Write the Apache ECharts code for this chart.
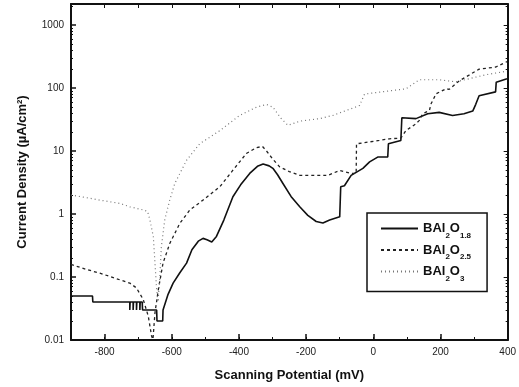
<!DOCTYPE html>
<html>
<head>
<meta charset="utf-8">
<script src="https://cdn.jsdelivr.net/npm/echarts@6/dist/echarts.min.js"></script>
<style>
  html, body { margin: 0; padding: 0; background: #fff; }
  #chart { width: 519px; height: 387px; }
</style>
</head>
<body>
<div id="chart"></div>
<script>
// series names
const names = ['BAl2O1.8', 'BAl2O2.5', 'BAl2O3']

// BAl2O1.8 (solid) - potential (mV) / current density (uA/cm2)
const s1x = [-900, -836, -835, -725, -725, -724, -715, -715, -714, -705, -705, -704, -695, -695, -694, -688, -687, -645, -644, -627, -626, -611, -596, -576, -556, -540, -521, -507, -495, -481, -467, -445, -418, -395, -368, -345, -328, -310, -299, -285, -269, -245, -219, -195, -170, -150, -130, -100, -97, -86, -66, -31, -11, 13, 43, 45, 82, 85, 127, 162, 196, 236, 270, 296, 305, 315, 364, 366, 398]
const s1y = [0.05, 0.05, 0.04, 0.04, 0.03, 0.04, 0.04, 0.03, 0.04, 0.04, 0.03, 0.04, 0.04, 0.03, 0.04, 0.04, 0.03, 0.03, 0.02, 0.02, 0.03, 0.053, 0.08, 0.117, 0.166, 0.27, 0.37, 0.41, 0.39, 0.36, 0.44, 0.8, 1.88, 2.9, 4.4, 5.7, 6.2, 5.8, 5.3, 4.2, 3.05, 1.9, 1.3, 0.95, 0.76, 0.72, 0.8, 0.9, 2.7, 2.8, 4.1, 5.3, 6.7, 8, 8, 13, 14.7, 33.7, 32.6, 39, 41, 36.6, 39, 43, 55, 75, 86.6, 123.6, 140]

// BAl2O2.5 (dashed)
const s2x = [-900, -850, -814, -754, -725, -705, -685, -670, -660, -656, -650, -640, -626, -606, -576, -546, -507, -457, -418, -378, -348, -330, -318, -300, -279, -250, -219, -180, -135, -101, -66, -51, -50, 18, 48, 82, 97, 127, 137, 147, 167, 172, 187, 217, 226, 256, 285, 315, 365, 398]
const s2y = [0.158, 0.13, 0.115, 0.09, 0.08, 0.067, 0.044, 0.024, 0.0115, 0.0102, 0.027, 0.063, 0.166, 0.34, 0.71, 1.16, 1.66, 2.7, 4.95, 9.1, 11.3, 11.8, 10, 7.5, 5.6, 4.7, 4.1, 4.1, 4.1, 4.9, 4.4, 4.4, 13, 14.7, 15.6, 16, 21, 27, 30.6, 39, 44, 56, 81, 97, 95, 130, 160, 199, 215, 262]

// BAl2O3 (dotted)
const s3x = [-900, -850, -814, -754, -725, -685, -672, -665, -655, -650, -645, -641, -636, -631, -621, -606, -591, -556, -517, -457, -398, -348, -318, -299, -275, -254, -219, -160, -120, -41, -26, -21, 97, 137, 196, 246, 335, 398]
const s3y = [2.0, 1.8, 1.66, 1.47, 1.3, 1.16, 1.1, 0.8, 0.44, 0.166, 0.063, 0.04, 0.09, 0.3, 0.8, 1.66, 3.05, 7.1, 13, 21, 36.6, 49.6, 54.7, 49.6, 33, 25.5, 29.7, 32.6, 36.7, 52.6, 80, 81, 97, 135, 135, 125, 162, 185]

// axis ticks
const xLabels = [-800, -600, -400, -200, 0, 200, 400]
const yLabels = [0.01, 0.1, 1, 10, 100, 1000]

const zip = (xs, ys) => xs.map((x, i) => [x, ys[i]])

const chart = echarts.init(document.getElementById('chart'))

const font = 'Liberation Sans, Arial, sans-serif'
const legendFmt = {
	'BAl2O1.8': '{n|BAl}{s|2}{n|O}{s|1.8}',
	'BAl2O2.5': '{n|BAl}{s|2}{n|O}{s|2.5}',
	'BAl2O3': '{n|BAl}{s|2}{n|O}{s|3}',
}

const option = {
	animation: false,
	backgroundColor: '#fff',
	grid: { left: 71, right: 9, top: 4, bottom: 45 },
	legend: {
		orient: 'vertical',
		left: 367,
		top: 213,
		itemWidth: 37,
		itemHeight: 2,
		itemGap: 4,
		padding: [9, 16, 9, 13],
		borderColor: '#111',
		borderWidth: 1.5,
		itemStyle: { opacity: 0 },
		formatter: (n) => legendFmt[n],
		textStyle: {
			rich: {
				n: { fontSize: 13, fontWeight: 'bold', fontFamily: font, color: '#111', lineHeight: 16 },
				s: { fontSize: 8, fontWeight: 'bold', fontFamily: font, color: '#111', lineHeight: 8, verticalAlign: 'bottom', padding: [0, 0, -3, 0] },
			},
		},
		data: names,
	},
	xAxis: [
		{
			type: 'value',
			min: -900,
			max: 400,
			position: 'bottom',
			name: 'Scanning Potential (mV)',
			nameLocation: 'middle',
			nameGap: 29,
			nameTextStyle: { fontSize: 13, fontWeight: 'bold', fontFamily: font, color: '#111' },
			axisLine: { onZero: false, lineStyle: { color: '#111', width: 2 } },
			axisTick: { inside: true, length: 6, customValues: xLabels, lineStyle: { color: '#111', width: 1.5 } },
			axisLabel: { customValues: xLabels, fontSize: 10, fontFamily: font, color: '#222', margin: 7 },
			splitLine: { show: false },
		},
		{
			type: 'value',
			min: -900,
			max: 400,
			interval: 100,
			position: 'bottom',
			axisLine: { show: false, onZero: false },
			axisTick: { inside: true, length: 3, lineStyle: { color: '#111' } },
			axisLabel: { show: false },
			splitLine: { show: false },
		},
		{
			type: 'value',
			min: -900,
			max: 400,
			interval: 100,
			position: 'top',
			axisLine: { onZero: false, lineStyle: { color: '#111', width: 2 } },
			axisTick: { inside: true, length: 4, lineStyle: { color: '#111' } },
			axisLabel: { show: false },
			splitLine: { show: false },
		},
	],
	yAxis: [
		{
			type: 'log',
			min: 0.01,
			max: 2150,
			position: 'left',
			name: 'Current Density (µA/cm²)',
			nameLocation: 'middle',
			nameRotate: 90,
			nameGap: 42,
			nameTextStyle: { fontSize: 13, fontWeight: 'bold', fontFamily: font, color: '#111' },
			axisLine: { onZero: false, lineStyle: { color: '#111', width: 2 } },
			axisTick: { inside: true, length: 5, lineStyle: { color: '#111', width: 1.5 } },
			minorTick: { show: true, splitNumber: 9, length: 2, lineStyle: { color: '#111' } },
			axisLabel: {
				fontSize: 10,
				fontFamily: font,
				color: '#222',
				margin: 7,
				formatter: (v) => {
					const hit = yLabels.find((t) => Math.abs(t - v) / t < 1e-6)
					return hit === undefined ? '' : String(hit)
				},
			},
			splitLine: { show: false },
		},
		{
			type: 'log',
			min: 0.01,
			max: 2150,
			position: 'right',
			axisLine: { show: true, onZero: false, lineStyle: { color: '#111', width: 2 } },
			axisTick: { inside: true, length: 4, lineStyle: { color: '#111' } },
			minorTick: { show: true, splitNumber: 9, length: 2, lineStyle: { color: '#111' } },
			axisLabel: { show: false },
			splitLine: { show: false },
		},
	],
	series: [
		{
			name: names[0],
			type: 'line',
			symbol: 'none',
			lineStyle: { color: '#111', width: 1.6, type: 'solid' },
			itemStyle: { color: '#111' },
			data: zip(s1x, s1y),
		},
		{
			name: names[1],
			type: 'line',
			symbol: 'none',
			lineStyle: { color: '#222', width: 1.3, type: [3, 3] },
			itemStyle: { color: '#222' },
			data: zip(s2x, s2y),
		},
		{
			name: names[2],
			type: 'line',
			symbol: 'none',
			lineStyle: { color: '#777', width: 1.2, type: [1, 3] },
			itemStyle: { color: '#777' },
			data: zip(s3x, s3y),
		},
	],
}
chart.setOption(option)
</script>
</body>
</html>
